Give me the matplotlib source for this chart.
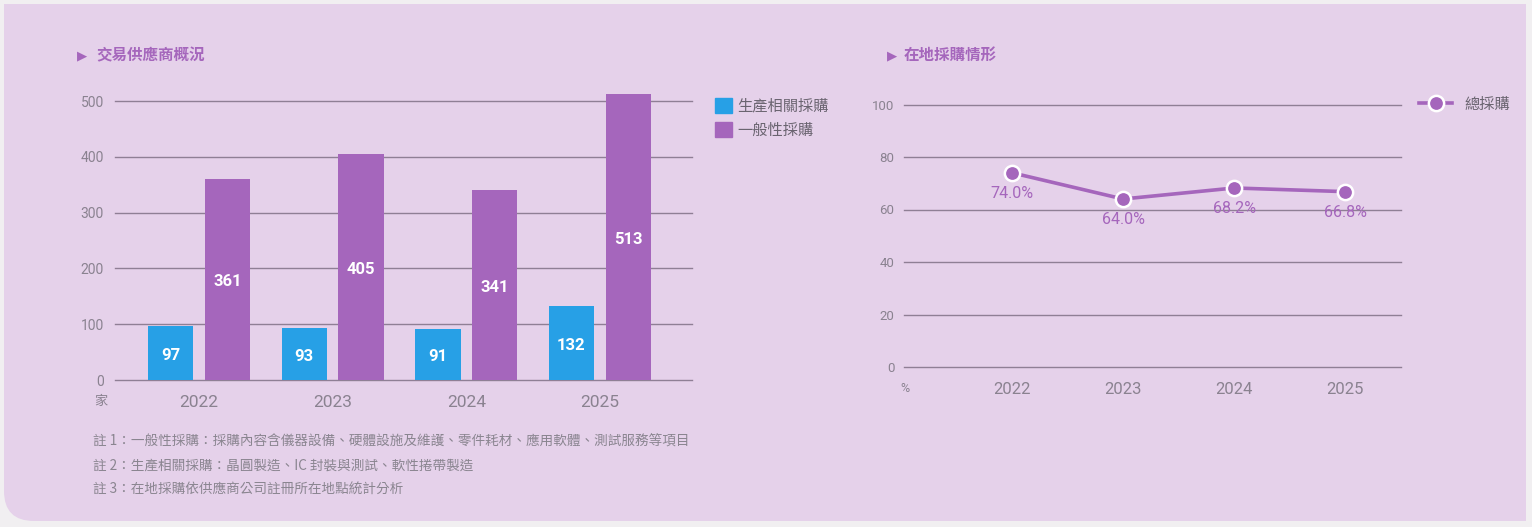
import matplotlib
matplotlib.use("Agg")
import matplotlib.pyplot as plt
from matplotlib.path import Path
from matplotlib.patches import PathPatch
from matplotlib.lines import Line2D
from matplotlib.patches import Patch
import numpy as np

plt.rcParams['font.family'] = ['Roboto', 'Noto Sans CJK TC', 'DejaVu Sans']
CJK = ['Noto Sans CJK TC', 'DejaVu Sans']

# ---- data ----
years = ['2022', '2023', '2024', '2025']
production = [97, 93, 91, 132]
general = [361, 405, 341, 513]
local_pct = [74.0, 64.0, 68.2, 66.8]
bar_yticks = [0, 100, 200, 300, 400, 500]
line_yticks = [0, 20, 40, 60, 80, 100]
bar_series = ['生產相關採購', '一般性採購']
line_series = '總採購'
title_left = '交易供應商概況'
title_right = '在地採購情形'
notes = ['註 1：一般性採購：採購內容含儀器設備、硬體設施及維護、零件耗材、應用軟體、測試服務等項目',
         '註 2：生產相關採購：晶圓製造、IC 封裝與測試、軟性捲帶製造',
         '註 3：在地採購依供應商公司註冊所在地點統計分析']

W, H = 1532, 527
BLUE = '#27a0e6'
PURPLE = '#a566bc'
PANEL = '#e5d1ea'
GRID = '#8f7f95'
TICK = '#8a8290'
LEG = '#6a6470'

fig = plt.figure(figsize=(W / 100, H / 100), dpi=100)
fig.patch.set_facecolor('#f1eff1')

# panel with rounded bottom-left corner
def px(x, y):
    return (x / W, 1 - y / H)

r = 30
x0, y0, x1, y1 = 4, 4, 1526, 521
verts = [px(x0, y0), px(x1, y0), px(x1, y1), px(x0 + r, y1),
         px(x0, y1), px(x0, y1 - r), px(x0, y0), px(x0, y0)]
codes = [Path.MOVETO, Path.LINETO, Path.LINETO, Path.LINETO,
         Path.CURVE3, Path.CURVE3, Path.LINETO, Path.CLOSEPOLY]
fig.patches.append(PathPatch(Path(verts, codes), transform=fig.transFigure,
                             facecolor=PANEL, edgecolor='none', zorder=-5))

def axes_px(xa, ya, xb, yb):
    return fig.add_axes([xa / W, 1 - yb / H, (xb - xa) / W, (yb - ya) / H])

# ---------------- bar chart ----------------
ax = axes_px(115, 90, 692, 380)
ax.set_facecolor('none')
x = np.arange(len(years))
bw = 0.34
off = 0.213
b1 = ax.bar(x - off, production, bw, color=BLUE, zorder=3)
b2 = ax.bar(x + off, general, bw, color=PURPLE, zorder=3)
for bars, vals in ((b1, production), (b2, general)):
    for b, v in zip(bars, vals):
        ax.text(b.get_x() + b.get_width() / 2, v / 2 - 4, str(v), ha='center', va='center',
                color='white', fontsize=12, fontweight='bold', zorder=4)
ax.set_ylim(0, 520)
ax.set_xlim(-0.63, 3.69)
ax.set_yticks(bar_yticks)
ax.yaxis.grid(True, color=GRID, linewidth=1)
for gl in ax.yaxis.get_gridlines():
    gl.set_clip_on(False)
ax.set_axisbelow(True)
for s in ax.spines.values():
    s.set_visible(False)
ax.tick_params(axis='y', length=0, pad=8, labelsize=10, labelcolor=TICK)
ax.tick_params(axis='x', length=0, pad=11, labelsize=12.5, labelcolor=TICK)
ax.set_xticks(x)
ax.set_xticklabels(years)
fig.text(101 / W, 1 - 401 / H, '家', ha='center', va='center', color=TICK,
         fontsize=9.5, family=CJK)

ax.legend([Patch(color=BLUE), Patch(color=PURPLE)], bar_series,
          loc='upper left', bbox_to_anchor=(701 / W, 1 - 84 / H),
          bbox_transform=fig.transFigure, frameon=False,
          prop={'family': CJK, 'size': 11}, labelcolor=LEG,
          handlelength=1.1, handleheight=1.1, handletextpad=0.4, labelspacing=0.45)

# titles
fig.text(77 / W, 1 - 56 / H, '▶', color=PURPLE, fontsize=9.5, va='center', ha='left',
         family=['DejaVu Sans'])
fig.text(96 / W, 1 - 55 / H, title_left, color=PURPLE, fontsize=11.2, fontweight='bold',
         va='center', ha='left', family=CJK)
fig.text(887 / W, 1 - 56 / H, '▶', color=PURPLE, fontsize=9.5, va='center', ha='left',
         family=['DejaVu Sans'])
fig.text(904 / W, 1 - 55 / H, title_right, color=PURPLE, fontsize=11.2, fontweight='bold',
         va='center', ha='left', family=CJK)

# notes
for i, n in enumerate(notes):
    fig.text(93 / W, 1 - (441 + 24.5 * i) / H, n, color='#8a8590', fontsize=9.8,
             va='center', ha='left', family=CJK)

# ---------------- line chart ----------------
ax2 = axes_px(904, 94, 1401, 367)
ax2.set_facecolor('none')
xl = np.arange(len(years))
ax2.plot(xl, local_pct, color=PURPLE, linewidth=2.6, marker='o', markersize=11,
         markerfacecolor=PURPLE, markeredgecolor='white', markeredgewidth=1.8,
         zorder=4, clip_on=False)
for xi, v in zip(xl, local_pct):
    ax2.annotate(f'{v:.1f}%', (xi, v), xytext=(0, -15), textcoords='offset points',
                 ha='center', va='center', color=PURPLE, fontsize=11.5, zorder=5)
ax2.set_ylim(0, 104)
ax2.set_xlim(-0.97, 3.5)
ax2.set_yticks(line_yticks)
ax2.yaxis.grid(True, color=GRID, linewidth=1)
for gl in ax2.yaxis.get_gridlines():
    gl.set_clip_on(False)
ax2.set_axisbelow(True)
for s in ax2.spines.values():
    s.set_visible(False)
ax2.tick_params(axis='y', length=0, pad=7, labelsize=9.5, labelcolor=TICK)
ax2.tick_params(axis='x', length=0, pad=11, labelsize=12, labelcolor=TICK)
ax2.set_xticks(xl)
ax2.set_xticklabels(years)
fig.text(905 / W, 1 - 388 / H, '%', ha='center', va='center', color=TICK, fontsize=9)

ax2.legend([Line2D([0], [0], color=PURPLE, linewidth=2.6, marker='o', markersize=11,
                   markerfacecolor=PURPLE, markeredgecolor='white', markeredgewidth=1.8)],
           [line_series], loc='center left', bbox_to_anchor=(1405 / W, 1 - 104 / H),
           bbox_transform=fig.transFigure, frameon=False,
           prop={'family': CJK, 'size': 11}, labelcolor=LEG,
           handlelength=2.2, handletextpad=0.8)

fig.savefig('out.png', dpi=100, facecolor=fig.get_facecolor())
